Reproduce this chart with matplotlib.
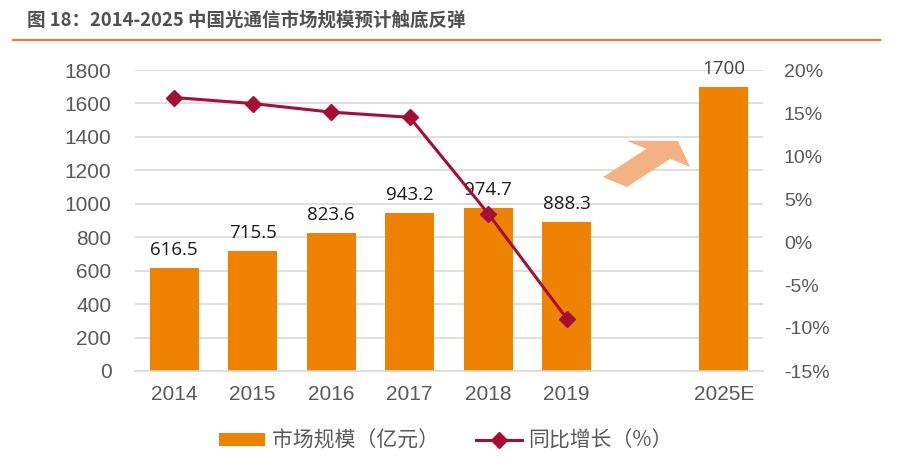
import matplotlib
matplotlib.use("Agg")
import matplotlib.pyplot as plt
from matplotlib.patches import FancyArrow
import numpy as np

plt.rcParams['font.family'] = ['Liberation Sans', 'Noto Sans CJK SC', 'DejaVu Sans']

categories = ["2014", "2015", "2016", "2017", "2018", "2019", "", "2025E"]
market = [616.5, 715.5, 823.6, 943.2, 974.7, 888.3, None, 1700]
growth = [16.8, 16.1, 15.1, 14.5, 3.3, -8.9]
left_ticks = [0, 200, 400, 600, 800, 1000, 1200, 1400, 1600, 1800]
right_ticks = [-15, -10, -5, 0, 5, 10, 15, 20]

bar_color = "#EF8200"
line_color = "#A50F36"
grey = "#595959"

fig = plt.figure(figsize=(9.03, 4.69), dpi=100)
ax = fig.add_axes([135/903, 1-371/469, (763-135)/903, (371-70)/469])
ax2 = ax.twinx()

x = np.arange(len(categories))
bx = [xi for xi, v in zip(x, market) if v is not None]
bv = [v for v in market if v is not None]
ax.bar(bx, bv, width=0.62, color=bar_color, zorder=2, label="市场规模（亿元）")
for xi, v in zip(bx, bv):
    lab = f"{v:g}"
    ax.text(xi, v + 55, lab, ha="center", va="bottom", fontsize=13.5,
            color="#1a1a1a" if v != 1700 else "#404040",
            family=['Open Sans', 'Liberation Sans'], clip_on=False, zorder=5)

ax.set_ylim(0, 1800)
ax.set_xlim(-0.5, len(categories) - 0.5)
ax.set_yticks(left_ticks)
ax.set_xticks(x)
ax.set_xticklabels(categories)
ax.grid(axis="y", color="#D9D9D9", linewidth=1.2, zorder=0)
ax.set_axisbelow(True)
for s in ["top", "right", "left"]:
    ax.spines[s].set_visible(False)
ax.spines["bottom"].set_color("#D9D9D9")
ax.spines["bottom"].set_linewidth(1.2)
ax.tick_params(axis="both", length=0, labelsize=15, labelcolor=grey)
ax.tick_params(axis="x", pad=10)
ax.tick_params(axis="y", pad=17)

ax2.plot(x[:len(growth)], growth, color=line_color, linewidth=2.2, marker="D",
         markersize=8, zorder=4, label="同比增长（%）")
ax2.set_ylim(-15, 20)
ax2.set_yticks(right_ticks)
ax2.set_yticklabels([f"{t}%" for t in right_ticks])
ax2.tick_params(axis="y", length=0, labelsize=14, labelcolor=grey, pad=15)
for s in ax2.spines.values():
    s.set_visible(False)

# decorative arrow
arrow = FancyArrow(615/903, 1-182/469, (678-615)/903, -(141-182)/469, width=0.034,
                   head_width=0.09, head_length=0.035, length_includes_head=True,
                   transform=fig.transFigure, color="#F4B183", linewidth=0)
fig.patches.append(arrow)

# title
fig.text(27/903, 1-20/469, "图 18：2014-2025 中国光通信市场规模预计触底反弹",
         fontsize=13.3, fontweight="bold", color="#505050", va="center", ha="left",
         family=['Noto Sans CJK SC', 'DejaVu Sans'])
fig.add_artist(plt.Line2D([13/903, 880/903], [1-40/469, 1-40/469],
                          color="#ED7D31", linewidth=1.6, transform=fig.transFigure))

# legend
h1, l1 = ax.get_legend_handles_labels()
h2, l2 = ax2.get_legend_handles_labels()
leg = fig.legend(h1 + h2, l1 + l2, loc="center", bbox_to_anchor=(446/903, 1-441/469),
                 ncol=2, frameon=False, handlelength=2.2, handleheight=0.55,
                 columnspacing=1.8, handletextpad=0.3,
                 prop={'family': ['Noto Sans CJK SC', 'DejaVu Sans'], 'size': 15})
for t in leg.get_texts():
    t.set_color(grey)

fig.savefig("out.png", dpi=100)
